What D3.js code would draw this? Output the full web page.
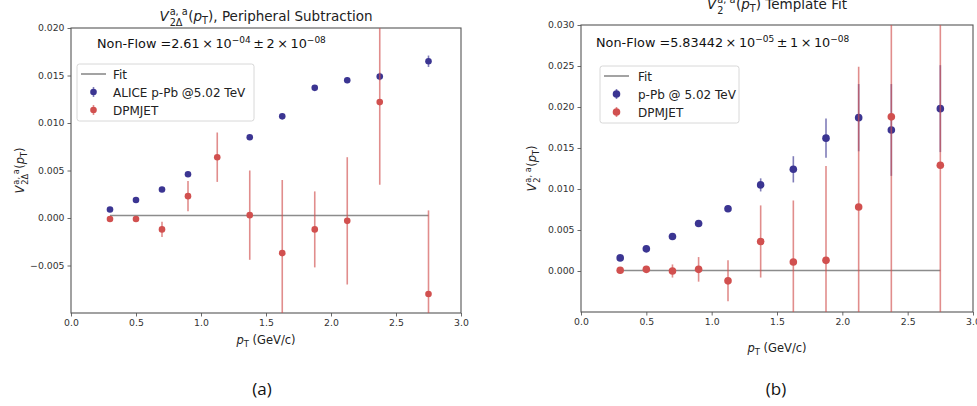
<!DOCTYPE html>
<html>
<head>
<meta charset="utf-8">
<script src="https://cdn.jsdelivr.net/npm/d3@7/dist/d3.min.js"></script>
<style>
  html, body { margin: 0; padding: 0; background: #fff; }
  svg { display: block; font-family: "DejaVu Sans", sans-serif; }
</style>
</head>
<body>
<svg id="chart" width="977" height="406"></svg>
<script>
// ---- data: panel (a) peripheral subtraction ----
const ptA_alice = [0.3, 0.5, 0.7, 0.9, 1.375, 1.625, 1.875, 2.125, 2.375, 2.75];
const v2A_alice = [0.0009, 0.0019, 0.0030, 0.0046, 0.0085, 0.0107, 0.0137, 0.0145, 0.0149, 0.0165];
const errA_alice = [0.0002, 0.0002, 0.0002, 0.0002, 0.0002, 0.0002, 0.0002, 0.0003, 0.0004, 0.0006];
const ptA_dpm = [0.3, 0.5, 0.7, 0.9, 1.125, 1.375, 1.625, 1.875, 2.125, 2.375, 2.75];
const v2A_dpm = [-0.0001, -0.0001, -0.0012, 0.0023, 0.0064, 0.0003, -0.0037, -0.0012, -0.0003, 0.0122, -0.0080];
const errA_dpm = [0.0003, 0.0003, 0.0008, 0.0016, 0.0026, 0.0047, 0.0077, 0.0040, 0.0067, 0.0087, 0.0088];
const fitA = 2.61e-4;

// ---- data: panel (b) template fit ----
const ptB = [0.3, 0.5, 0.7, 0.9, 1.125, 1.375, 1.625, 1.875, 2.125, 2.375, 2.75];
const v2B_ppb = [0.0016, 0.0027, 0.0042, 0.0058, 0.0076, 0.0105, 0.0124, 0.0162, 0.0187, 0.0172, 0.0198];
const errB_ppb = [0.0002, 0.0002, 0.0002, 0.0002, 0.0004, 0.0008, 0.0016, 0.0024, 0.0041, 0.0056, 0.0053];
const v2B_dpm = [0.0001, 0.0002, 0.0000, 0.0002, -0.0012, 0.0036, 0.0011, 0.0013, 0.0078, 0.0188, 0.0129];
const errB_dpm = [0.0002, 0.0002, 0.0008, 0.0015, 0.0025, 0.0044, 0.0075, 0.0115, 0.0171, 0.0300, 0.0260];
const fitB = 5.83442e-5;

const xTicks = [0.0, 0.5, 1.0, 1.5, 2.0, 2.5, 3.0];
const yTicksA = [-0.005, 0.000, 0.005, 0.010, 0.015, 0.020];
const yTicksB = [0.000, 0.005, 0.010, 0.015, 0.020, 0.025, 0.030];

const BLUE = "#3b3592";
const RED = "#d1504f";
const FITC = "#8c8c8c";

const svg = d3.select("#chart");

// writes V^{a,a}_{sub}(p_T) as tspans, stacking the sub- and superscript
function vLabel(t, sub, fs) {
  const small = fs * 0.72;
  t.append("tspan").attr("font-style", "italic").text("V");
  const sb = t.append("tspan").attr("font-size", small).attr("dx", 1).attr("dy", fs * 0.34).text(sub);
  const wSub = sb.node().getComputedTextLength();
  const sp = t.append("tspan").attr("font-size", small).attr("dx", -wSub).attr("dy", -fs * 0.76).text("a, a");
  const wSup = sp.node().getComputedTextLength();
  const gap = Math.max(0, wSub - wSup);
  t.append("tspan").attr("dx", gap + 0.5).attr("dy", fs * 0.42).text("(");
  t.append("tspan").attr("font-style", "italic").text("p");
  t.append("tspan").attr("font-size", small).attr("dy", fs * 0.25).text("T");
  t.append("tspan").attr("dy", -fs * 0.25).text(")");
}

function panel(cfg) {
  const x = d3.scaleLinear().domain([0, 3]).range([cfg.left, cfg.right]);
  const y = d3.scaleLinear().domain(cfg.yDomain).range([cfg.bottom, cfg.top]);
  const g = svg.append("g");

  // axes
  const xa = g.append("g").attr("transform", `translate(0,${cfg.bottom})`)
    .call(d3.axisBottom(x).tickValues(xTicks).tickFormat(d3.format(".1f")).tickSizeOuter(0).tickSize(3.5).tickPadding(3));
  const ya = g.append("g").attr("transform", `translate(${cfg.left},0)`)
    .call(d3.axisLeft(y).tickValues(cfg.yTicks).tickFormat(d => d3.format(".3f")(d).replace("-", "\u2212")).tickSizeOuter(0).tickSize(3.5).tickPadding(3));
  [xa, ya].forEach(a => {
    a.select(".domain").remove();
    a.selectAll("line").attr("stroke", "#444").attr("stroke-width", 0.8);
    a.selectAll("text").attr("font-size", 9.3).attr("fill", "#333").attr("font-family", "DejaVu Sans, sans-serif");
  });
  g.append("rect").attr("x", cfg.left).attr("y", cfg.top)
    .attr("width", cfg.right - cfg.left).attr("height", cfg.bottom - cfg.top)
    .attr("fill", "none").attr("stroke", "#555").attr("stroke-width", 1.1);

  const clipId = "clip" + cfg.id;
  svg.append("clipPath").attr("id", clipId).append("rect")
    .attr("x", cfg.left).attr("y", cfg.top).attr("width", cfg.right - cfg.left).attr("height", cfg.bottom - cfg.top);
  const plot = g.append("g").attr("clip-path", `url(#${clipId})`);

  // fit line
  plot.append("line")
    .attr("x1", x(0.3)).attr("x2", x(2.75)).attr("y1", y(cfg.fit)).attr("y2", y(cfg.fit))
    .attr("stroke", FITC).attr("stroke-width", 1.6);

  // series with error bars
  cfg.series.forEach(s => {
    const pts = s.x.map((xv, i) => ({ x: xv, v: s.v[i], e: s.e[i] }));
    plot.append("g").selectAll("line").data(pts).join("line")
      .attr("x1", d => x(d.x)).attr("x2", d => x(d.x))
      .attr("y1", d => y(d.v - d.e)).attr("y2", d => y(d.v + d.e))
      .attr("stroke", s.color).attr("stroke-opacity", 0.65).attr("stroke-width", 1.6);
    plot.append("g").selectAll("circle").data(pts).join("circle")
      .attr("cx", d => x(d.x)).attr("cy", d => y(d.v)).attr("r", cfg.r)
      .attr("fill", s.color);
  });

  // title
  const tt = svg.append("text").attr("x", (cfg.left + cfg.right) / 2).attr("y", cfg.titleY)
    .attr("text-anchor", "middle").attr("font-size", 13.5).attr("fill", "#222");
  vLabel(tt, cfg.sub, 13.5);
  tt.append("tspan").text(cfg.titleRest);

  // y label
  const yl = svg.append("text")
    .attr("transform", `translate(${cfg.yLabelX},${(cfg.top + cfg.bottom) / 2}) rotate(-90)`)
    .attr("text-anchor", "middle").attr("font-size", 11.5).attr("fill", "#222");
  vLabel(yl, cfg.sub, 11.5);

  // x label
  const xl = svg.append("text").attr("x", (cfg.left + cfg.right) / 2).attr("y", cfg.xLabelY)
    .attr("text-anchor", "middle").attr("font-size", 11.5).attr("fill", "#222");
  xl.append("tspan").attr("font-style", "italic").text("p");
  xl.append("tspan").attr("font-size", 8.5).attr("dy", 2.5).text("T");
  xl.append("tspan").attr("dy", -2.5).text(" (GeV/c)");

  // non-flow annotation
  const nf = svg.append("text").attr("x", cfg.nfX).attr("y", cfg.nfY)
    .attr("font-size", 12.8).attr("fill", "#111");
  nf.append("tspan").text(`Non-Flow =${cfg.nfVal}\u2009\u00d7\u200910`);
  nf.append("tspan").attr("font-size", 9).attr("dy", -5.5).text(cfg.nfExp);
  nf.append("tspan").attr("dy", 5.5).text(`\u2009\u00b1\u2009${cfg.nfErr}\u2009\u00d7\u200910`);
  nf.append("tspan").attr("font-size", 9).attr("dy", -5.5).text("\u221208");

  // legend
  const L = cfg.legend;
  const lg = svg.append("g");
  lg.append("rect").attr("x", L.x).attr("y", L.y).attr("width", L.w).attr("height", L.h)
    .attr("rx", 2.5).attr("fill", "#fff").attr("fill-opacity", 0.85).attr("stroke", "#d8d8d8").attr("stroke-width", 1);
  const rowY = i => L.y + 10 + i * 18;
  lg.append("line").attr("x1", L.x + 4).attr("x2", L.x + 29).attr("y1", rowY(0)).attr("y2", rowY(0))
    .attr("stroke", FITC).attr("stroke-width", 1.6);
  [BLUE, RED].forEach((c, k) => {
    const yy = rowY(k + 1);
    lg.append("line").attr("x1", L.x + 16.5).attr("x2", L.x + 16.5).attr("y1", yy - 5).attr("y2", yy + 5)
      .attr("stroke", c).attr("stroke-opacity", 0.65).attr("stroke-width", 1.6);
    lg.append("circle").attr("cx", L.x + 16.5).attr("cy", yy).attr("r", cfg.r).attr("fill", c);
  });
  ["Fit", cfg.series[0].name, cfg.series[1].name].forEach((n, i) => {
    lg.append("text").attr("x", L.x + L.tx).attr("y", rowY(i) + 4.5).attr("font-size", 12).attr("fill", "#222").text(n);
  });

  // panel tag
  svg.append("text").attr("x", cfg.tagX).attr("y", 395).attr("text-anchor", "middle")
    .attr("font-family", "Open Sans, sans-serif").attr("font-size", 17).attr("fill", "#111").text(cfg.tag);
}

panel({
  id: "a", left: 71, right: 461, top: 28, bottom: 313,
  yDomain: [-0.010, 0.020], yTicks: yTicksA, fit: fitA, r: 3.3,
  series: [
    { name: "ALICE p-Pb @5.02 TeV", x: ptA_alice, v: v2A_alice, e: errA_alice, color: BLUE },
    { name: "DPMJET", x: ptA_dpm, v: v2A_dpm, e: errA_dpm, color: RED }
  ],
  sub: "2\u0394", titleRest: ", Peripheral Subtraction", titleY: 21,
  yLabelX: 24, xLabelY: 344,
  nfX: 97, nfY: 48, nfVal: "2.61", nfExp: "\u221204", nfErr: "2",
  legend: { x: 77, y: 64, w: 177, h: 57, tx: 36 },
  tag: "(a)", tagX: 262
});

panel({
  id: "b", left: 581, right: 973, top: 25, bottom: 312,
  yDomain: [-0.005, 0.030], yTicks: yTicksB, fit: fitB, r: 3.8,
  series: [
    { name: "p-Pb @ 5.02 TeV", x: ptB, v: v2B_ppb, e: errB_ppb, color: BLUE },
    { name: "DPMJET", x: ptB, v: v2B_dpm, e: errB_dpm, color: RED }
  ],
  sub: "2", titleRest: " Template Fit", titleY: 9,
  yLabelX: 536, xLabelY: 352,
  nfX: 596, nfY: 47, nfVal: "5.83442", nfExp: "\u221205", nfErr: "1",
  legend: { x: 600, y: 66, w: 139, h: 57, tx: 38 },
  tag: "(b)", tagX: 776
});
</script>
</body>
</html>
